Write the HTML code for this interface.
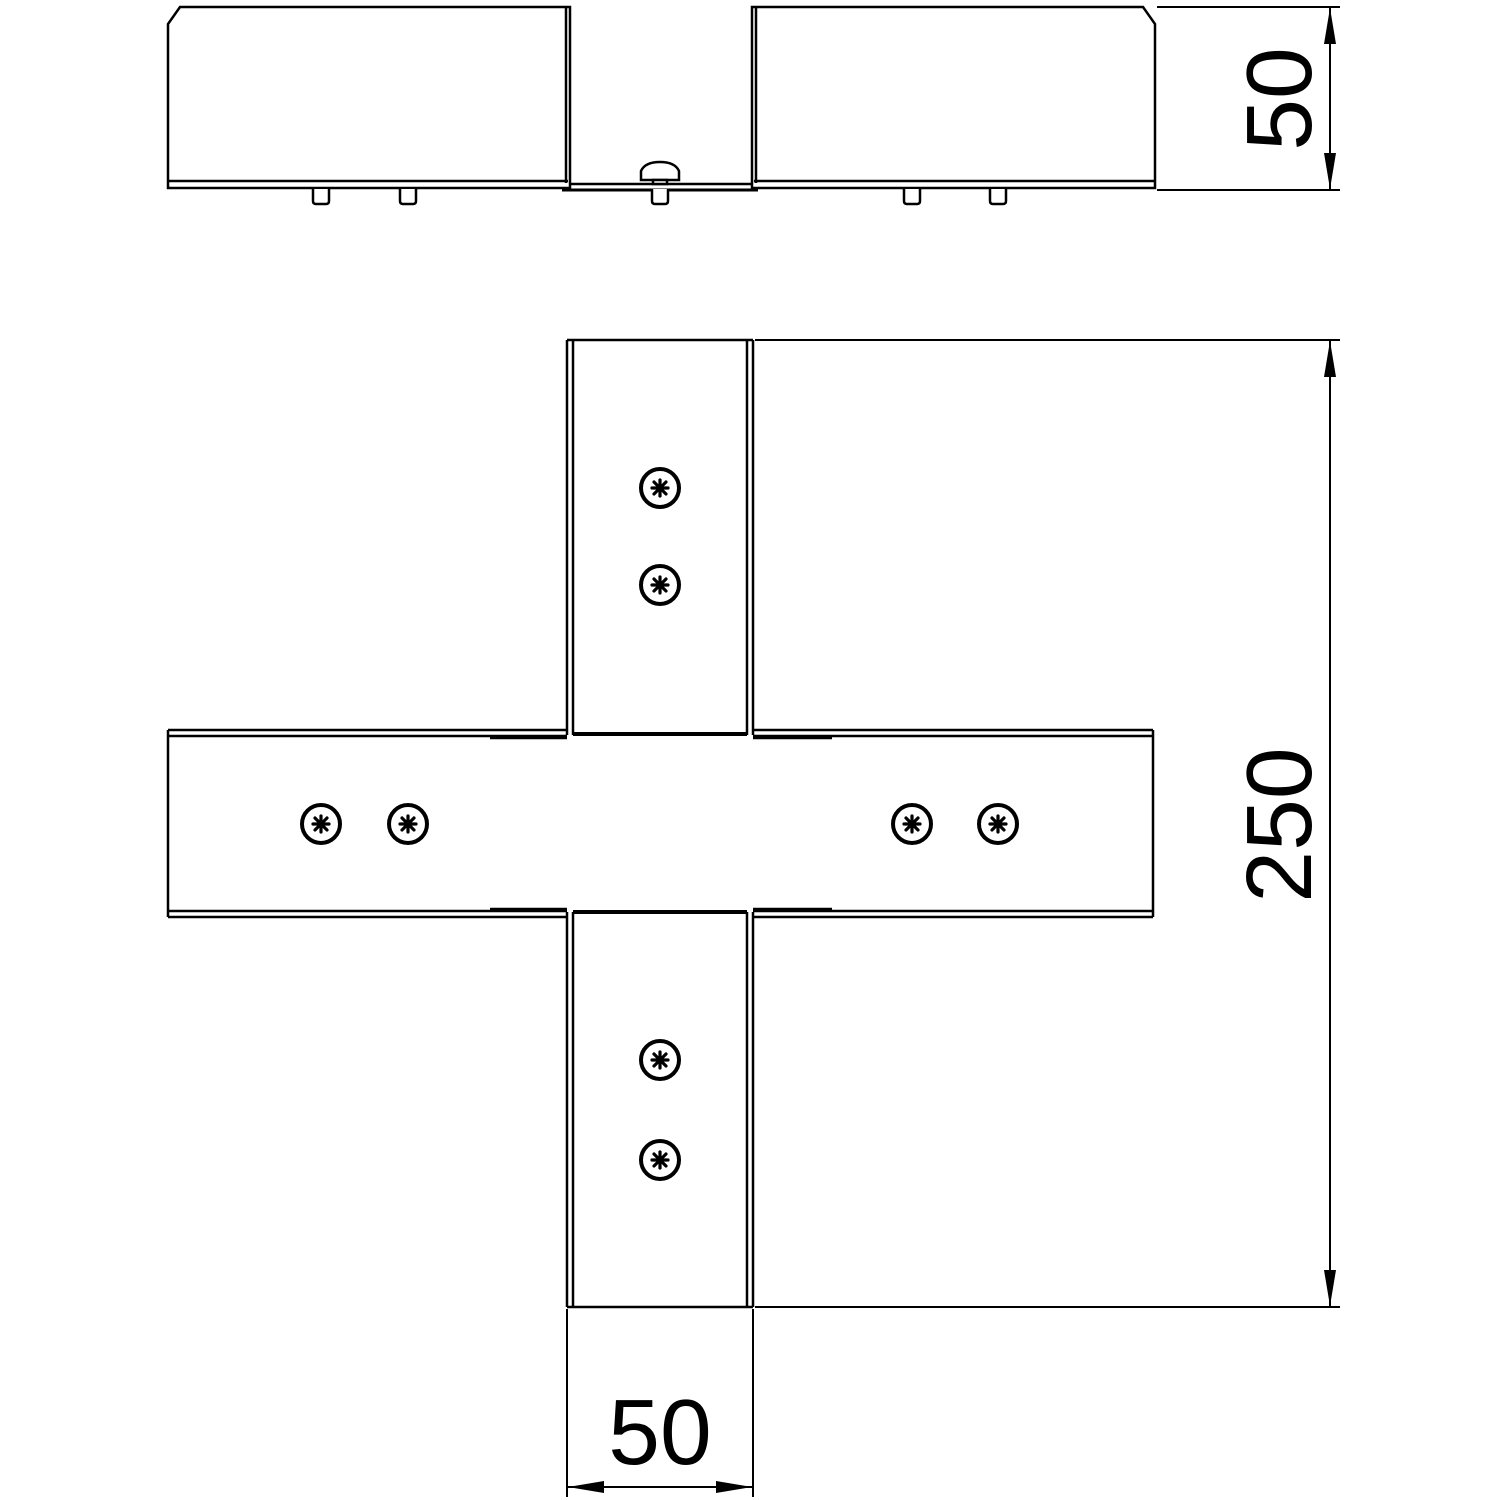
<!DOCTYPE html>
<html><head><style>html,body{margin:0;padding:0;background:#fff}svg{display:block}</style></head><body>
<svg width="1500" height="1500" viewBox="0 0 1500 1500" xmlns="http://www.w3.org/2000/svg">
<defs>
<g id="scr"><circle r="19" fill="none" stroke="#000" stroke-width="4"/>
<g stroke="#000" stroke-width="3.2" stroke-linecap="round"><line x1="-8" y1="0" x2="8" y2="0"/><line x1="0" y1="-8" x2="0" y2="8"/><line x1="-6" y1="-6" x2="6" y2="6"/><line x1="-6" y1="6" x2="6" y2="-6"/></g></g>
<g id="peg"><path d="M-8 189 V201 Q-8 204 -5 204 H5 Q8 204 8 201 V189" fill="#fff" stroke="#000" stroke-width="2.5"/></g>
</defs>
<g fill="none" stroke="#000" stroke-width="2.5">
<path d="M168 188 V24 L180 7 H570 V188 Z"/>
<line x1="168" y1="181" x2="568" y2="181"/>
<line x1="566" y1="7" x2="566" y2="183"/>
<path d="M1155 188 V24 L1143 7 H752 V188 Z"/>
<line x1="1155" y1="181" x2="754" y2="181"/>
<line x1="756" y1="7" x2="756" y2="183"/>
<path d="M570 184 H752" />
<path d="M562 190 H758" stroke-width="3"/>
<path d="M641 180 V171 Q645 162 660 162 Q675 162 679 171 V180 Z" fill="#fff"/>
<rect x="653" y="180" width="14" height="4" fill="#fff"/>
</g>
<use href="#peg" x="321"/><use href="#peg" x="408"/><use href="#peg" x="660"/><use href="#peg" x="912"/><use href="#peg" x="998"/>
<g fill="none" stroke="#000" stroke-width="2.5">
<path d="M567 340 V735"/><path d="M573 340 V735"/><path d="M567 340 H753"/>
<path d="M753 340 V735"/><path d="M747 340 V735"/>
<path d="M573 734 H747" stroke-width="4"/>
<path d="M168 730 H567"/><path d="M168 736 H567"/><path d="M168 730 V917"/>
<path d="M753 730 H1153"/><path d="M753 736 H1153"/><path d="M1153 730 V917"/>
<path d="M490 738 H567"/><path d="M753 738 H832"/>
<path d="M168 911 H567"/><path d="M168 917 H567"/>
<path d="M753 911 H1153"/><path d="M753 917 H1153"/>
<path d="M490 909 H567"/><path d="M753 909 H832"/>
<path d="M573 912 H747" stroke-width="4"/>
<path d="M567 912 V1307"/><path d="M573 912 V1307"/>
<path d="M753 912 V1307"/><path d="M747 912 V1307"/>
<path d="M567 1307 H753"/>
</g>
<use href="#scr" x="660" y="488"/><use href="#scr" x="660" y="585"/>
<use href="#scr" x="321" y="824"/><use href="#scr" x="408" y="824"/>
<use href="#scr" x="912" y="824"/><use href="#scr" x="998" y="824"/>
<use href="#scr" x="660" y="1060"/><use href="#scr" x="660" y="1160"/>
<g stroke="#000" stroke-width="2" fill="none">
<line x1="1157" y1="7" x2="1340" y2="7"/><line x1="1157" y1="190" x2="1340" y2="190"/>
<line x1="1330" y1="7" x2="1330" y2="190"/>
<line x1="755" y1="340" x2="1340" y2="340"/><line x1="755" y1="1307" x2="1340" y2="1307"/>
<line x1="1330" y1="340" x2="1330" y2="1307"/>
<line x1="567" y1="1309" x2="567" y2="1497"/><line x1="753" y1="1309" x2="753" y2="1497"/>
<line x1="567" y1="1487" x2="753" y2="1487"/>
</g>
<g fill="#000">
<path d="M1330 8 L1324 44 L1336 44 Z"/><path d="M1330 189 L1324 153 L1336 153 Z"/>
<path d="M1330 341 L1324 377 L1336 377 Z"/><path d="M1330 1306 L1324 1270 L1336 1270 Z"/>
<path d="M568 1487 L604 1481 L604 1493 Z"/><path d="M752 1487 L716 1481 L716 1493 Z"/>
</g>
<g font-family="Liberation Sans, sans-serif" font-size="93" fill="#000" text-anchor="middle">
<text transform="translate(1311,99) rotate(-90)">50</text>
<text transform="translate(1311,825) rotate(-90)">250</text>
<text x="660" y="1464">50</text>
</g>
</svg>
</body></html>
